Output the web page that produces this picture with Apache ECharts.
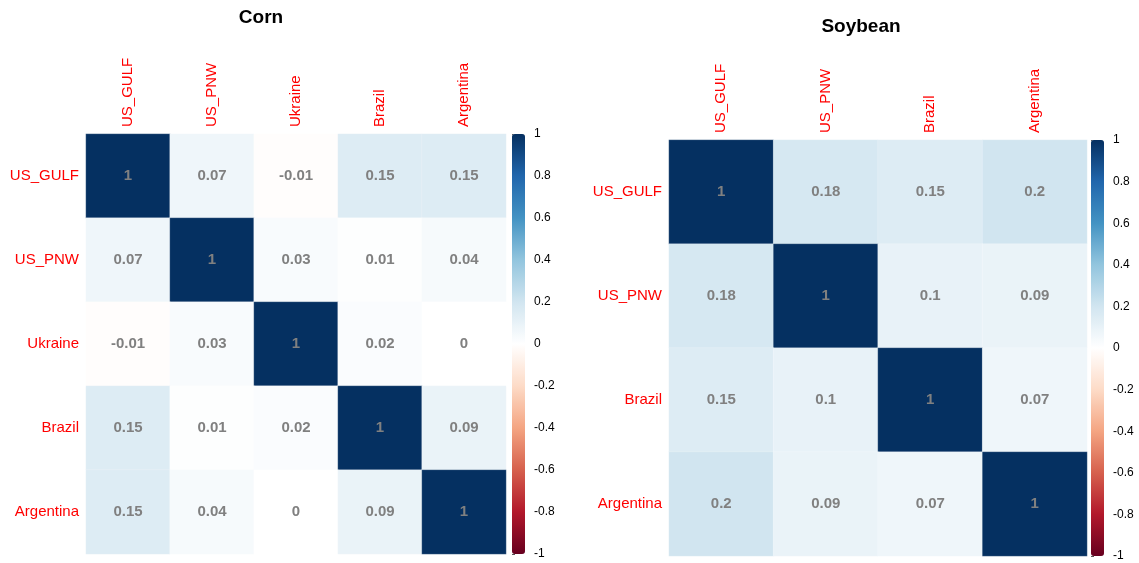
<!DOCTYPE html>
<html style="height: 100%">
<head>
<meta charset="utf-8">
</head>
<body style="height: 100%; margin: 0; background: #fff">
<div id="container" style="width: 1139px; height: 563px"></div>
<script src="https://cdn.jsdelivr.net/npm/echarts@6/dist/echarts.min.js"></script>
<script>
// corrplot style correlation matrices
var cornLabels = ['US_GULF', 'US_PNW', 'Ukraine', 'Brazil', 'Argentina'];
var cornRows = [
    [1, 0.07, -0.01, 0.15, 0.15],
    [0.07, 1, 0.03, 0.01, 0.04],
    [-0.01, 0.03, 1, 0.02, 0],
    [0.15, 0.01, 0.02, 1, 0.09],
    [0.15, 0.04, 0, 0.09, 1]
];
var soyLabels = ['US_GULF', 'US_PNW', 'Brazil', 'Argentina'];
var soyRows = [
    [1, 0.18, 0.15, 0.2],
    [0.18, 1, 0.1, 0.09],
    [0.15, 0.1, 1, 0.07],
    [0.2, 0.09, 0.07, 1]
];
// RdBu palette used by corrplot, from -1 to 1
var rdbu = ['#67001F', '#B2182B', '#D6604D', '#F4A582', '#FDDBC7', '#FFFFFF',
            '#D1E5F0', '#92C5DE', '#4393C3', '#2166AC', '#053061'];

function toCells(rows) {
    var out = [];
    for (var r = 0; r < rows.length; r++) {
        for (var c = 0; c < rows[r].length; c++) {
            out.push([c, r, rows[r][c]]);
        }
    }
    return out;
}

var chart = echarts.init(document.getElementById('container'));

var catX = function (labels, idx) {
    return {
        type: 'category', gridIndex: idx, data: labels, position: 'top',
        axisLine: {show: false}, axisTick: {show: false}, splitLine: {show: false},
        axisLabel: {rotate: -90, color: '#ff0000', fontSize: 15, margin: 7, interval: 0}
    };
};
var catY = function (labels, idx) {
    return {
        type: 'category', gridIndex: idx, data: labels, inverse: true,
        axisLine: {show: false}, axisTick: {show: false}, splitLine: {show: false},
        axisLabel: {color: '#ff0000', fontSize: 15, margin: 7, interval: 0}
    };
};
var barX = function (idx) {
    return {type: 'value', gridIndex: idx, show: false, min: 0, max: 1};
};
var barY = function (idx) {
    return {
        type: 'value', gridIndex: idx, min: -1, max: 1, interval: 0.2, position: 'right',
        axisLine: {show: false}, splitLine: {show: false},
        axisTick: {show: true, length: 3, lineStyle: {color: '#555'}},
        axisLabel: {fontSize: 12, color: '#000', margin: 9}
    };
};

var cellLabel = {
    show: true, color: '#808080', fontSize: 15, fontWeight: 'bold',
    formatter: function (p) { return p.value[2]; }
};

option = {
    textStyle: {fontFamily: 'Liberation Sans, Arial, sans-serif'},
    animation: false,
    title: [
        {text: 'Corn', left: 256, top: 3, textAlign: 'center',
         textStyle: {fontSize: 19, fontWeight: 'bold', color: '#000'}},
        {text: 'Soybean', left: 856, top: 12, textAlign: 'center',
         textStyle: {fontSize: 19, fontWeight: 'bold', color: '#000'}}
    ],
    grid: [
        {left: 86, top: 134, width: 420, height: 420},
        {left: 669, top: 140, width: 418, height: 416},
        {left: 512, top: 134, width: 13, height: 420},
        {left: 1091, top: 140, width: 13, height: 416}
    ],
    xAxis: [catX(cornLabels, 0), catX(soyLabels, 1), barX(2), barX(3)],
    yAxis: [catY(cornLabels, 0), catY(soyLabels, 1), barY(2), barY(3)],
    visualMap: [
        {type: 'continuous', seriesIndex: 0, min: -1, max: 1, calculable: false,
         inRange: {color: rdbu}, left: 512, top: 134, itemWidth: 13, itemHeight: 420,
         padding: 0, text: null, showLabel: false, hoverLink: false},
        {type: 'continuous', seriesIndex: 1, min: -1, max: 1, calculable: false,
         inRange: {color: rdbu}, left: 1091, top: 140, itemWidth: 13, itemHeight: 416,
         padding: 0, text: null, showLabel: false, hoverLink: false}
    ],
    series: [
        {type: 'heatmap', xAxisIndex: 0, yAxisIndex: 0, data: toCells(cornRows),
         label: cellLabel, itemStyle: {borderColor: 'rgba(255,255,255,0.4)', borderWidth: 0.5}},
        {type: 'heatmap', xAxisIndex: 1, yAxisIndex: 1, data: toCells(soyRows),
         label: cellLabel, itemStyle: {borderColor: 'rgba(255,255,255,0.4)', borderWidth: 0.5}}
    ]
};
chart.setOption(option);
</script>
</body>
</html>
